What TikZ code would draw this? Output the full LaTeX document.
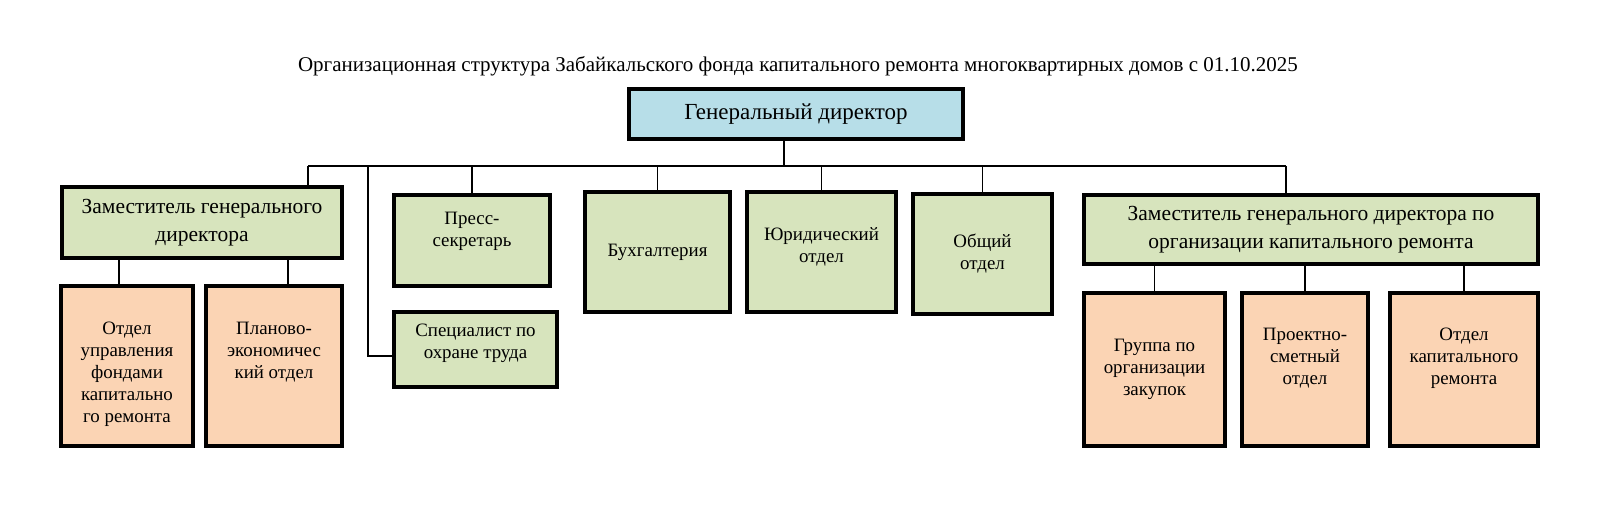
\documentclass[tikz,border=0pt]{standalone}
\usepackage{fontspec}
\setmainfont{Liberation Serif}
\definecolor{headblue}{HTML}{B7DEE8}
\definecolor{unitgreen}{HTML}{D7E4BD}
\definecolor{deptpeach}{HTML}{FBD4B4}
\newcommand\fs[2]{\fontsize{#1}{#2}\selectfont}
\begin{document}
\begin{tikzpicture}[x=1pt, y=-1pt,
    box/.style={draw, line width=4.5pt, inner sep=0pt},
    head/.style={box, fill=headblue},
    unit/.style={box, fill=unitgreen},
    dept/.style={box, fill=deptpeach},
    big/.style={align=center, font=\fs{21.5}{28}},
    small/.style={align=center, font=\fs{18.9}{22}},
    link/.style={line width=1.5pt}]
    \useasboundingbox (0,0) rectangle (1600,513);

    \node[font=\fs{21}{24}] (title) at (798,66) {Организационная структура Забайкальского фонда капитального ремонта многоквартирных домов с 01.10.2025};

    % Director
    \node[head, minimum width=334pt, minimum height=50pt, font=\fs{23}{28}] (gd) at (796,114) {Генеральный директор};

    % First level
    \node[unit, minimum width=280pt, minimum height=71pt, big] (dep1) at (202,222.5) {Заместитель генерального\\директора};
    \node[unit, minimum width=156pt, minimum height=91pt] (press) at (472,240.5) {};
    \node[small] (press-t) at (472,231) {Пресс-\\секретарь};
    \node[unit, minimum width=163pt, minimum height=75pt] (spec) at (475.5,349.5) {};
    \node[small] (spec-t) at (475.5,343) {Специалист по\\охране труда};
    \node[unit, minimum width=145pt, minimum height=120pt, small] (buh) at (657.5,252) {Бухгалтерия};
    \node[unit, minimum width=149pt, minimum height=120pt] (yur) at (821.5,252) {};
    \node[small] (yur-t) at (821.5,247) {Юридический\\отдел};
    \node[unit, minimum width=139pt, minimum height=120pt, small] (obsh) at (982.5,254) {Общий\\отдел};
    \node[unit, minimum width=454pt, minimum height=69pt, big] (dep2) at (1311,229.5) {Заместитель генерального директора по\\организации капитального ремонта};

    % Second level
    \node[dept, minimum width=132pt, minimum height=160pt] (ch1) at (127,366) {};
    \node[small] (ch1-t) at (127,374) {Отдел\\управления\\фондами\\капитально\\го ремонта};
    \node[dept, minimum width=136pt, minimum height=160pt] (ch2) at (274,366) {};
    \node[small] (ch2-t) at (274,352) {Планово-\\экономичес\\кий отдел};
    \node[dept, minimum width=141pt, minimum height=153pt, small] (grp) at (1154.5,369.5) {Группа по\\организации\\закупок};
    \node[dept, minimum width=126pt, minimum height=153pt] (psd) at (1305,369.5) {};
    \node[small] (psd-t) at (1305,358) {Проектно-\\сметный\\отдел};
    \node[dept, minimum width=148pt, minimum height=153pt] (okr) at (1464,369.5) {};
    \node[small] (okr-t) at (1464,358) {Отдел\\капитального\\ремонта};

    % Connectors
    \coordinate (bus-l) at (308,166);
    \coordinate (bus-r) at (1286,166);
    \coordinate (fork) at (368,166);
    \draw[link] (bus-l) -- (bus-r);
    \draw[link] ([xshift=-12pt]gd.south) -- ([xshift=-12pt]gd.south |- bus-l);
    \draw[link] (bus-l) -- (bus-l |- dep1.north);
    \draw[link] (bus-r) -- (bus-r |- dep2.north);
    \foreach \n in {press,buh,yur,obsh}
        \draw[link] (\n.north) -- (\n.north |- bus-l);
    \draw[link] (fork) |- ([yshift=-6.5pt]spec.west);
    \draw[link] ([xshift=-8pt]ch1.north) -- ([xshift=-8pt]ch1.north |- dep1.south);
    \draw[link] ([xshift=14pt]ch2.north) -- ([xshift=14pt]ch2.north |- dep1.south);
    \foreach \n in {grp,psd,okr}
        \draw[link] (\n.north) -- (\n.north |- dep2.south);
\end{tikzpicture}
\end{document}
